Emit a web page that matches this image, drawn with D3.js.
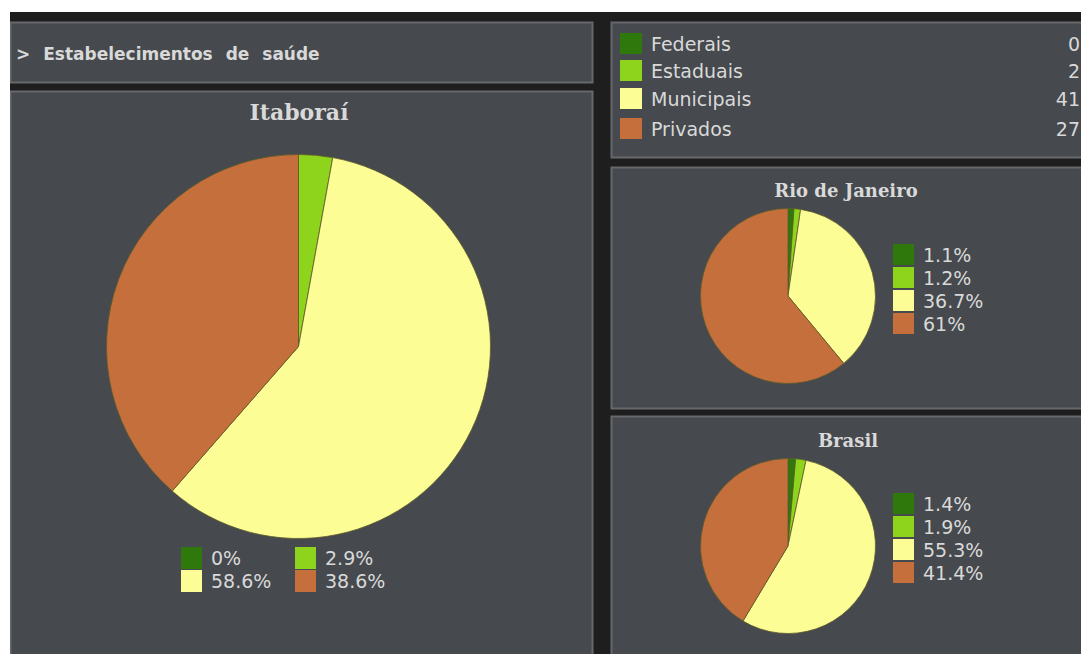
<!DOCTYPE html>
<html>
<head>
  <meta charset="utf-8">
  <title>Estabelecimentos de saúde</title>
  <style>
    body { margin: 0; background: #fff; }
    svg { display: block; }
  </style>
</head>
<body>
  <svg width="1081" height="654"></svg>
  <script src="https://cdn.jsdelivr.net/npm/d3@7/dist/d3.min.js"></script>
  <script>
  // dados
  var categorias = ["Federais", "Estaduais", "Municipais", "Privados"];
  var cores = ["#2e780c", "#8fd41c", "#fdfd96", "#c46f3c"];
  var itaboraiQtd = [0, 2, 41, 27];
  var rioPct = [1.1, 1.2, 36.7, 61];
  var brasilPct = [1.4, 1.9, 55.3, 41.4];

  var svg = d3.select("svg");
  var cor = d3.scaleOrdinal().domain(categorias).range(cores);
  var txt = "#d9d9d9";

  // fundo escuro
  svg.append("rect").attr("x", 10).attr("y", 12).attr("width", 1071).attr("height", 642).attr("fill", "#1e1e1f");

  function painel(x, y, w, h) {
    svg.append("rect")
      .attr("x", x + 0.5).attr("y", y + 0.5)
      .attr("width", w).attr("height", h)
      .attr("fill", "#46494e")
      .attr("stroke", "#66686c").attr("stroke-width", 2);
  }

  painel(10, 22, 582, 60);
  painel(10, 91, 582, 580);
  painel(611, 22, 480, 135);
  painel(611, 167, 480, 241);
  painel(611, 416, 480, 260);

  svg.append("text")
    .attr("x", 16).attr("y", 60)
    .attr("fill", txt)
    .attr("font-family", "DejaVu Sans").attr("font-weight", "bold")
    .attr("font-size", 17).attr("word-spacing", 7)
    .text("> Estabelecimentos de saúde");

  var pie = d3.pie().sort(null).value(function(d) { return d.v; });

  function desenhaPizza(titulo, valores, cx, cy, r, tx, ty, fs) {
    var dados = categorias.map(function(c, i) { return { c: c, v: valores[i] }; });
    var arc = d3.arc().innerRadius(0).outerRadius(r);
    svg.append("text")
      .attr("x", tx).attr("y", ty)
      .attr("text-anchor", "middle")
      .attr("fill", txt)
      .attr("font-family", "DejaVu Serif").attr("font-weight", "bold")
      .attr("font-size", fs)
      .text(titulo);
    svg.append("g")
      .attr("transform", "translate(" + cx + "," + cy + ")")
      .selectAll("path")
      .data(pie(dados).filter(function(d) { return d.data.v > 0; }))
      .enter()
      .append("path")
      .attr("d", arc)
      .attr("fill", function(d) { return cor(d.data.c); })
      .attr("stroke", "#5e5a2a")
      .attr("stroke-width", 0.8);
  }

  function fmt(p) { return (Math.round(p * 10) / 10) + "%"; }

  // Itaboraí
  var totalIta = d3.sum(itaboraiQtd);
  var itaPct = itaboraiQtd.map(function(v) { return v / totalIta * 100; });
  desenhaPizza("Itaboraí", itaboraiQtd, 298.5, 346.5, 192, 299, 120, 22);

  var legIta = svg.append("g").selectAll("g")
    .data(categorias)
    .enter()
    .append("g")
    .attr("transform", function(d, i) {
      return "translate(" + (181 + (i % 2) * 114) + "," + (547 + Math.floor(i / 2) * 23) + ")";
    });
  legIta.append("rect").attr("width", 21).attr("height", 22).attr("fill", function(d) { return cor(d); });
  legIta.append("text")
    .attr("x", 30).attr("y", 18)
    .attr("fill", txt).attr("font-family", "DejaVu Sans").attr("font-size", 19)
    .text(function(d, i) { return fmt(itaPct[i]); });

  // legenda com quantidades
  var leg = svg.append("g").selectAll("g")
    .data(categorias)
    .enter()
    .append("g")
    .attr("transform", function(d, i) { return "translate(620," + [33, 60, 88, 118][i] + ")"; });
  leg.append("rect").attr("width", 22).attr("height", 21).attr("fill", function(d) { return cor(d); });
  leg.append("text")
    .attr("x", 31).attr("y", 18)
    .attr("fill", txt).attr("font-family", "DejaVu Sans").attr("font-size", 19)
    .text(function(d) { return d; });
  leg.append("text")
    .attr("x", 460).attr("y", 18)
    .attr("text-anchor", "end")
    .attr("fill", txt).attr("font-family", "DejaVu Sans").attr("font-size", 19)
    .text(function(d, i) { return itaboraiQtd[i]; });

  function legendaPct(valores, x, y) {
    var g = svg.append("g").selectAll("g")
      .data(categorias)
      .enter()
      .append("g")
      .attr("transform", function(d, i) { return "translate(" + x + "," + (y + i * 23) + ")"; });
    g.append("rect").attr("width", 21).attr("height", 21).attr("fill", function(d) { return cor(d); });
    g.append("text")
      .attr("x", 30).attr("y", 18)
      .attr("fill", txt).attr("font-family", "DejaVu Sans").attr("font-size", 19)
      .text(function(d, i) { return valores[i] + "%"; });
  }

  desenhaPizza("Rio de Janeiro", rioPct, 788, 296, 87.5, 846, 197, 18);
  legendaPct(rioPct, 893, 244);

  desenhaPizza("Brasil", brasilPct, 788, 546, 87.5, 848, 447, 18);
  legendaPct(brasilPct, 893, 493);

  // faixa branca no topo
  svg.append("rect").attr("x", 0).attr("y", 0).attr("width", 1081).attr("height", 12).attr("fill", "#fff");
  svg.append("rect").attr("x", 0).attr("y", 0).attr("width", 10).attr("height", 654).attr("fill", "#fff");
  </script>
</body>
</html>
